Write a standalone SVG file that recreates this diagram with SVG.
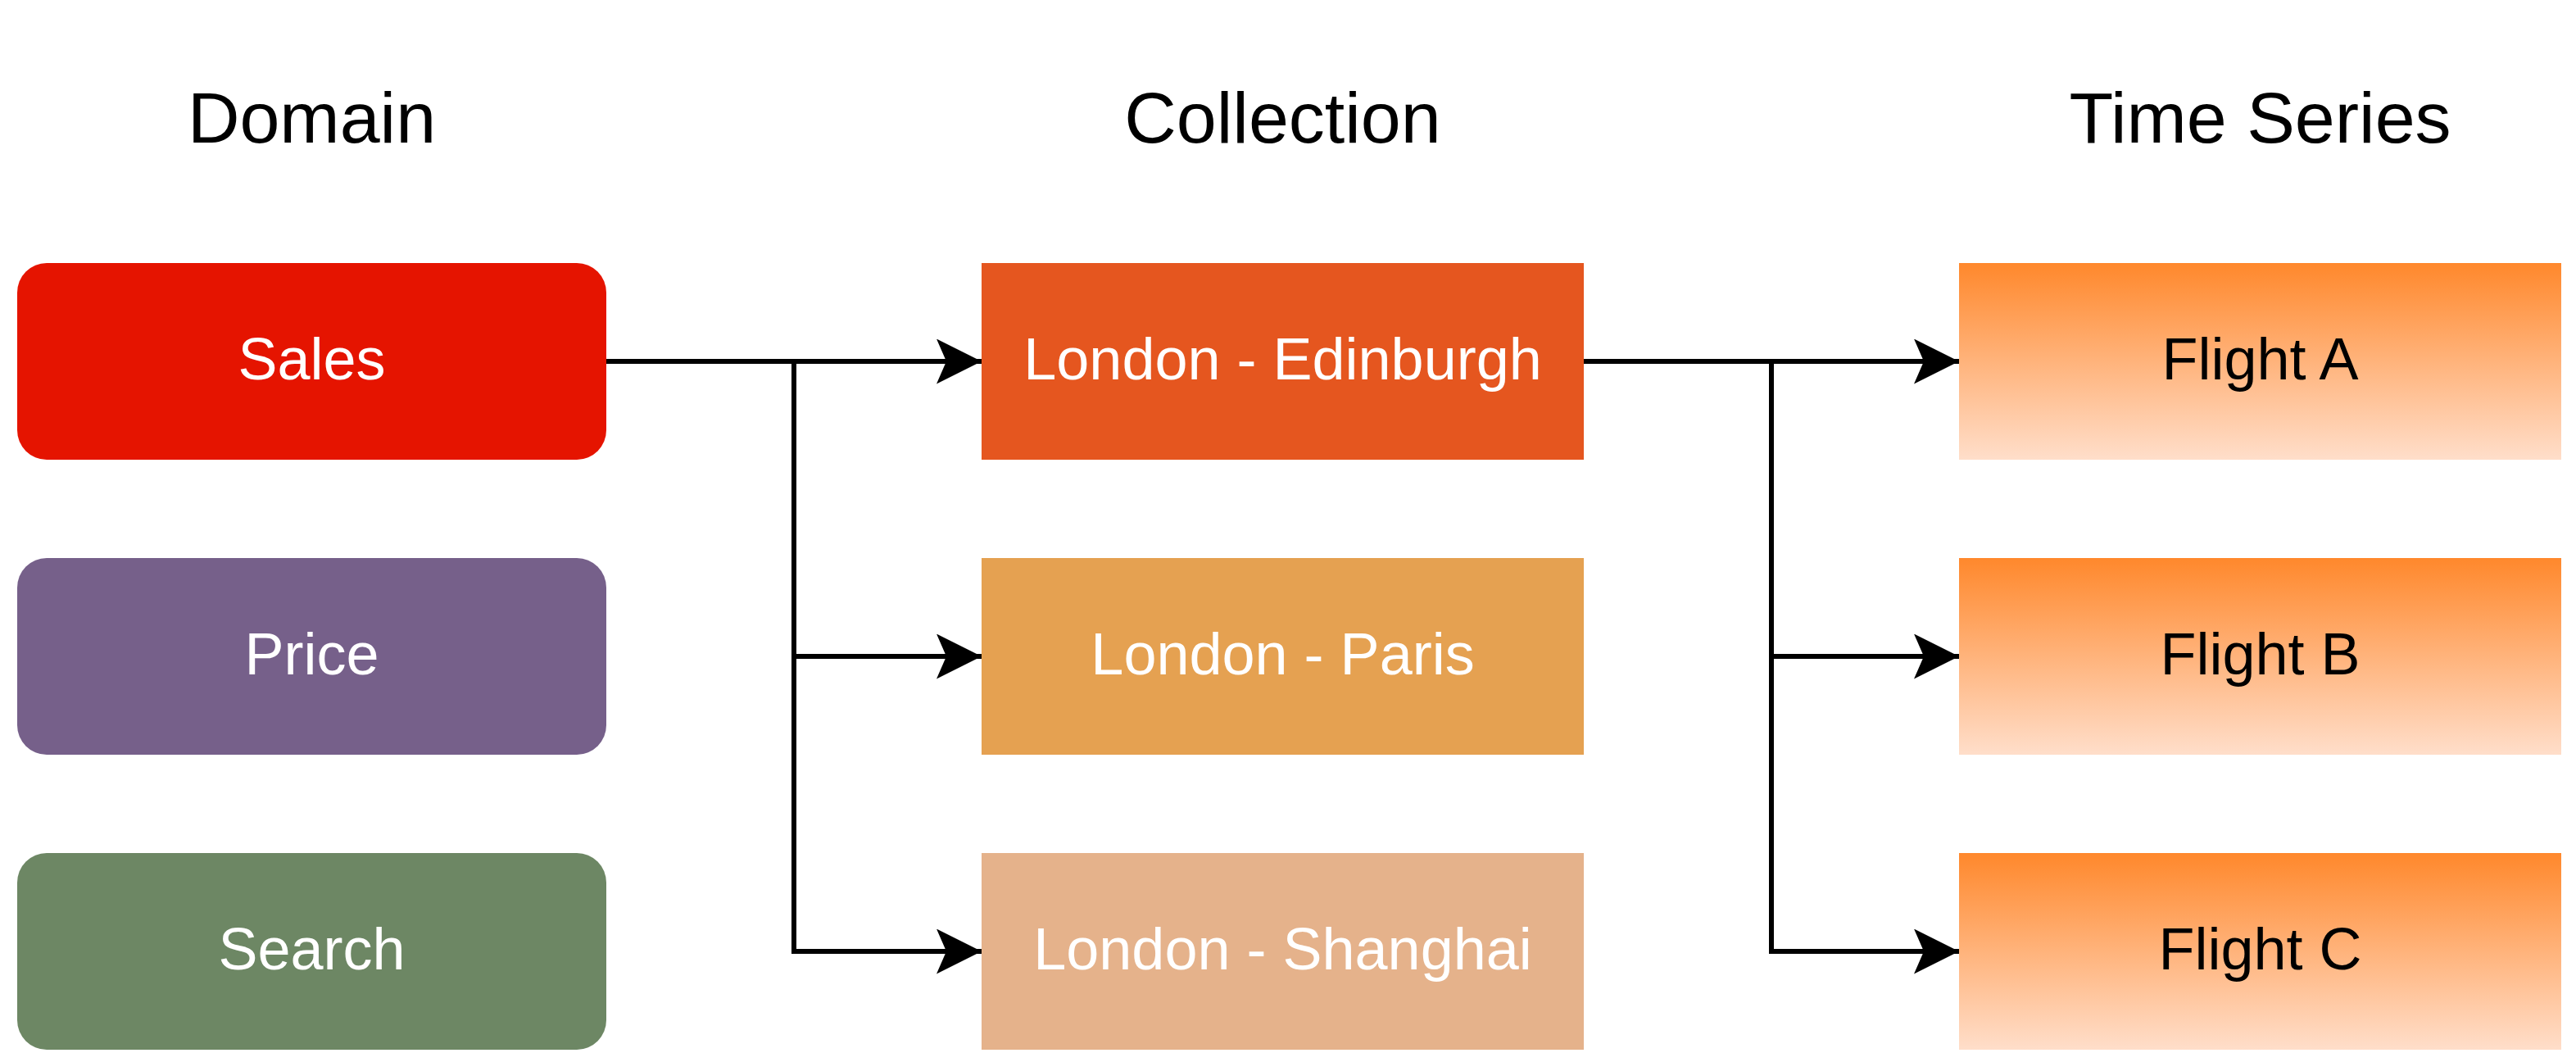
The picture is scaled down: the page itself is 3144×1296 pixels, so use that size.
<svg xmlns="http://www.w3.org/2000/svg" width="3144" height="1296" viewBox="0 0 3144 1296">
  <style>
    .title { font-family: "Liberation Sans", Arial, Helvetica, sans-serif; font-size: 88px; fill: #000000; text-anchor: middle; }
    .lbl { font-family: "Liberation Sans", Arial, Helvetica, sans-serif; font-size: 72px; text-anchor: middle; }
    .white { fill: #FFFFFF; }
    .black { fill: #000000; }
    .edge { fill: none; stroke: #000000; stroke-width: 6; stroke-linejoin: miter; marker-end: url(#arrow); }
  </style>
  <defs>
    <marker id="arrow" markerUnits="userSpaceOnUse" viewBox="0 0 55 55" refX="55" refY="27.5" markerWidth="55" markerHeight="55" orient="auto">
      <path d="M0,0 L55,27.5 L0,55 L12,27.5 Z" fill="#000000"/>
    </marker>
    <linearGradient id="tsGrad" x1="0" y1="0" x2="0" y2="1">
      <stop offset="0" stop-color="#FF882C"/>
      <stop offset="1" stop-color="#FFDECA"/>
    </linearGradient>
  </defs>
  <rect x="0" y="0" width="3144" height="1296" fill="#FFFFFF"/>

  <g id="headers">
    <text class="title" x="380.5" y="174">Domain</text>
    <text class="title" x="1565.5" y="174">Collection</text>
    <text class="title" x="2758.5" y="174">Time Series</text>
  </g>

  <g id="connectors">
    <path class="edge" d="M740,441 H1198"/>
    <path class="edge" d="M740,441 H969 V801 H1198"/>
    <path class="edge" d="M740,441 H969 V1161 H1198"/>
    <path class="edge" d="M1933,441 H2391"/>
    <path class="edge" d="M1933,441 H2162 V801 H2391"/>
    <path class="edge" d="M1933,441 H2162 V1161 H2391"/>
  </g>

  <g id="sales">
    <rect x="21" y="321" width="719" height="240" rx="36" ry="36" fill="#E51400"/>
    <text class="lbl white" x="380.5" y="463">Sales</text>
  </g>
  <g id="price">
    <rect x="21" y="681" width="719" height="240" rx="36" ry="36" fill="#76608A"/>
    <text class="lbl white" x="380.5" y="823">Price</text>
  </g>
  <g id="search">
    <rect x="21" y="1041" width="719" height="240" rx="36" ry="36" fill="#6D8764"/>
    <text class="lbl white" x="380.5" y="1183">Search</text>
  </g>

  <g id="london-edinburgh">
    <rect x="1198" y="321" width="735" height="240" fill="#E5561F"/>
    <text class="lbl white" x="1565.5" y="463">London - Edinburgh</text>
  </g>
  <g id="london-paris">
    <rect x="1198" y="681" width="735" height="240" fill="#E5A151"/>
    <text class="lbl white" x="1565.5" y="823">London - Paris</text>
  </g>
  <g id="london-shanghai">
    <rect x="1198" y="1041" width="735" height="240" fill="#E5B28B"/>
    <text class="lbl white" x="1565.5" y="1183">London - Shanghai</text>
  </g>

  <g id="flight-a">
    <rect x="2391" y="321" width="735" height="240" fill="url(#tsGrad)"/>
    <text class="lbl black" x="2758.5" y="463">Flight A</text>
  </g>
  <g id="flight-b">
    <rect x="2391" y="681" width="735" height="240" fill="url(#tsGrad)"/>
    <text class="lbl black" x="2758.5" y="823">Flight B</text>
  </g>
  <g id="flight-c">
    <rect x="2391" y="1041" width="735" height="240" fill="url(#tsGrad)"/>
    <text class="lbl black" x="2758.5" y="1183">Flight C</text>
  </g>
</svg>
